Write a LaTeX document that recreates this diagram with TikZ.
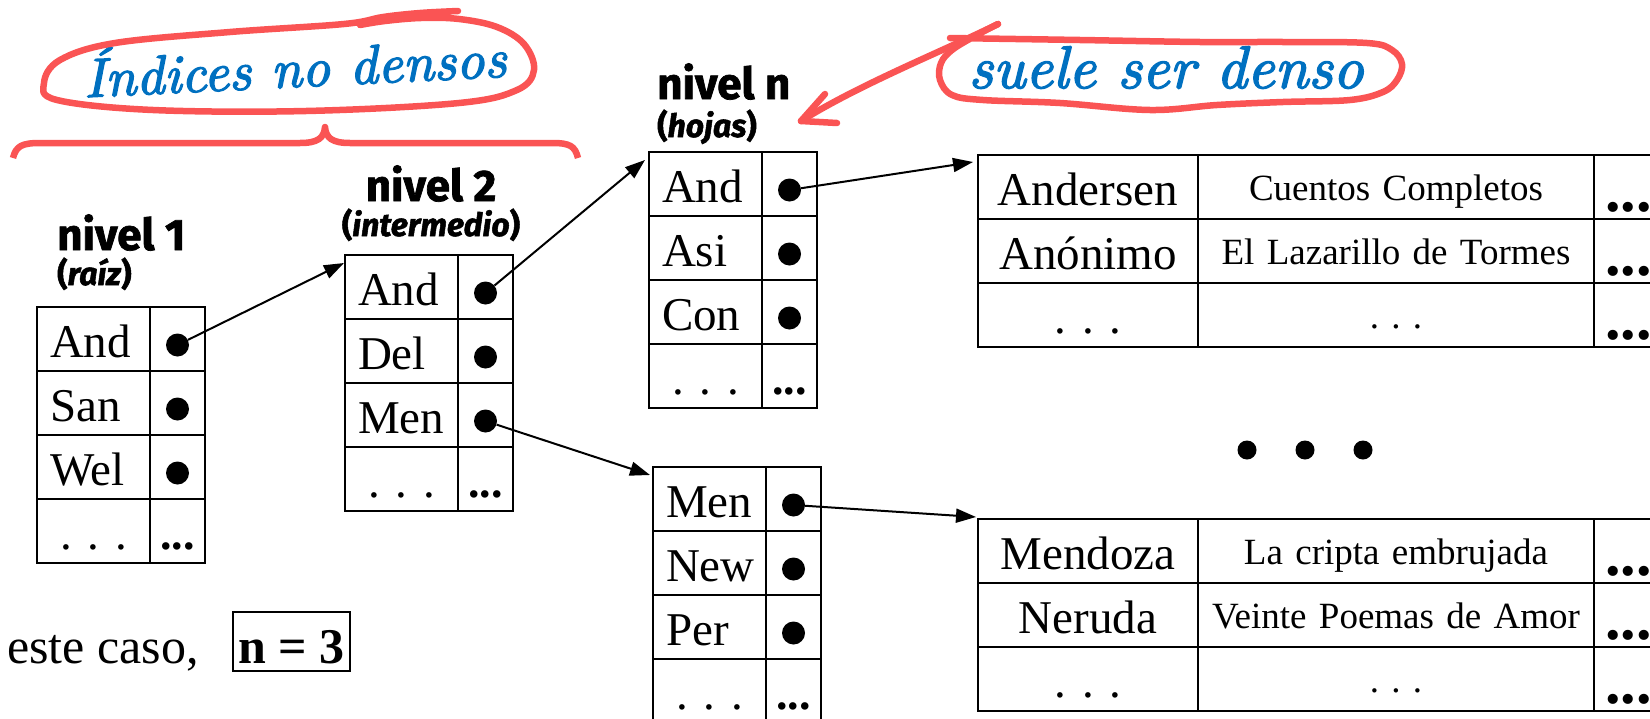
\documentclass[tikz,border=0pt]{standalone}
\usepackage{fontspec}
\setmainfont{Liberation Serif}
\newfontfamily\lblfont{Fira Sans}[BoldFeatures={FakeBold=1.6}, BoldItalicFeatures={FakeBold=1.6}]
\newfontfamily\hand{lmroman10-italic.otf}[FakeBold=2.4]
\usetikzlibrary{arrows.meta,calc}
\definecolor{inkred}{RGB}{250,84,84}
\definecolor{inkblue}{RGB}{0,112,192}

\tikzset{
  grid/.style={draw, line width=1.8pt, inner sep=0pt, outer sep=0pt, anchor=north west},
  keycell/.style={grid, minimum width=113pt, minimum height=64pt, text width=87pt,
    align=left, text height=36pt, text depth=0pt, font=\fontsize{47}{50}\selectfont},
  ptrcell/.style={grid, minimum width=55pt, minimum height=64pt, text width=45pt,
    align=center, text height=36pt, text depth=0pt, font=\fontsize{46}{50}\selectfont\bfseries},
  namecell/.style={grid, minimum width=220pt, minimum height=64pt, text width=200pt,
    align=center, text height=36pt, text depth=0pt, font=\fontsize{47}{50}\selectfont},
  titlecell/.style={grid, minimum width=396pt, minimum height=64pt, text width=380pt,
    align=center, text height=26pt, text depth=0pt, font=\fontsize{37}{40}\selectfont},
  morecell/.style={grid, minimum width=126pt, minimum height=64pt, text width=104pt,
    align=left, text height=48pt, text depth=0pt, font=\fontsize{62}{64}\selectfont\bfseries},
  bullet/.style={circle, fill, inner sep=0pt, minimum size=23pt},
  bigdot/.style={circle, fill, inner sep=0pt, minimum size=19pt},
  link/.style={line width=2pt, -{Triangle[length=20pt,width=14pt]}},
  lbl/.style={inner sep=0pt, font=\lblfont\fontsize{44}{46}\selectfont\bfseries},
  sublbl/.style={inner sep=0pt, font=\lblfont\fontsize{32}{34}\selectfont\bfseries},
  note/.style={inner sep=0pt, text=inkblue},
  redpen/.style={draw=inkred, line width=6.5pt, line cap=round, line join=round},
}

% index block: four rows of key + pointer, the last one left open
\newcommand{\idxtable}[6]{%
  \foreach \r/\k in {1/#4,2/#5,3/#6}{%
    \node[keycell] (#1k\r) at (#2,{#3+64*(\r-1)}) {\k};
    \node[ptrcell] (#1p\r) at ({#2+113},{#3+64*(\r-1)}) {};
    \node[bullet] (#1d\r) at ({#2+140.5},{#3+64*(\r-1)+38}) {};
  }
  \node[keycell, align=center] (#1k4) at (#2,{#3+192}) {.\ .\ .};
  \node[ptrcell] (#1p4) at ({#2+113},{#3+192}) {...};
}

% data block: author, title and the remaining fields
\newcommand{\datatable}[7]{%
  \node[namecell] (#1a1) at (#2,#3) {#4};
  \node[titlecell] (#1b1) at ({#2+220},#3) {#5};
  \node[morecell] (#1c1) at ({#2+616},#3) {...};
  \node[namecell] (#1a2) at (#2,{#3+64}) {#6};
  \node[titlecell] (#1b2) at ({#2+220},{#3+64}) {#7};
  \node[morecell] (#1c2) at ({#2+616},{#3+64}) {...};
  \node[namecell] (#1a3) at (#2,{#3+128}) {.\ .\ .};
  \node[titlecell] (#1b3) at ({#2+220},{#3+128}) {.\ .\ .};
  \node[morecell] (#1c3) at ({#2+616},{#3+128}) {...};
}

\begin{document}
\begin{tikzpicture}[x=1pt, y=-1pt]
\path[use as bounding box] (0,0) rectangle (1650,718);
\clip (0,0) rectangle (1650,718);

% level labels
\node[lbl, anchor=base west] (lv1) at (57,250) {nivel 1};
\node[sublbl, anchor=base west] (lv1s) at (57,285) {(\textit{raíz})};
\node[lbl, anchor=base] (lv2) at (431,201) {nivel 2};
\node[sublbl, anchor=base] (lv2s) at (431,236) {(\textit{intermedio})};
\node[lbl, anchor=base west] (lvn) at (657,99) {nivel n};
\node[sublbl, anchor=base west] (lvns) at (657,137) {(\textit{hojas})};

% index blocks
\idxtable{ra}{37}{307}{And}{San}{Wel}
\idxtable{im}{345}{255}{And}{Del}{Men}
\idxtable{ha}{649}{152}{And}{Asi}{Con}
\idxtable{hm}{653}{467}{Men}{New}{Per}

% data blocks
\datatable{ad}{978}{155}{Andersen}{Cuentos Completos}{Anónimo}{El Lazarillo de Tormes}
\datatable{md}{978}{519}{Mendoza}{La cripta embrujada}{Neruda}{Veinte Poemas de Amor}

% more blocks in between
\node[bigdot] (e1) at (1247,450) {};
\node[bigdot] (e2) at (1305,450) {};
\node[bigdot] (e3) at (1363,450) {};

% pointers
\draw[link] (rad1) -- ($(imk1.north west)+(-1,8)$);
\draw[link] (imd1) -- ($(hak1.north west)+(-4,8)$);
\draw[link] (imd3) -- ($(hmk1.north west)+(-3,8)$);
\draw[link] (had1) -- ($(ada1.north west)+(-5,7)$);
\draw[link] (hmd1) -- ($(mda1.north west)+(-2,-2)$);

% bottom remark
\node[anchor=base west, inner sep=0pt, font=\fontsize{50}{52}\selectfont] (caso) at (7,663) {este caso,};
\node[draw, line width=1.6pt, minimum width=117pt, minimum height=59pt, inner sep=0pt,
  text height=43pt, text depth=0pt, font=\fontsize{50}{52}\selectfont\bfseries] (nval) at (291.5,641.5) {n = 3};

% hand-written notes
\node[note, rotate=2.8, anchor=base, font=\hand\fontsize{55}{57}\selectfont] (nodense) at (296,87) {Índices no densos};
\node[note, anchor=base, font=\hand\fontsize{60}{62}\selectfont] (dense) at (1166,88) {suele ser denso};

% loop round the first note
\draw[redpen] plot[smooth, tension=0.6] coordinates {
  (458,11) (420,13) (383,17) (344,24) (230,32) (115,43) (60,60) (44,83) (57,100)
  (153,110) (306,111) (459,103) (517,90) (534,70) (524,44) (497,27) (459,19)
  (421,18) (385,21) (360,25)};
% brace under it
\draw[redpen, line cap=butt] (13,158) .. controls (16,146) and (22,143) .. (40,143) -- (300,143)
  .. controls (318,143) and (324,138) .. (325,127)
  .. controls (326,138) and (332,143) .. (350,143) -- (552,143)
  .. controls (570,143) and (575,146) .. (578,158);

% loop round the second note, ending in the arrow
\coordinate (ptail) at (998,24);
\coordinate (phead) at (801,121);
\draw[redpen] plot[smooth, tension=0.6] coordinates {
  (950,38) (1080,40) (1200,42) (1283,42) (1367,43) (1392,50) (1402,64) (1397,80)
  (1383,92) (1350,100) (1283,102) (1217,105) (1150,110) (1060,103) (983,100)
  (952,95) (940,80) (941,63) (952,50) (975,36) (998,24)};
\draw[redpen] (ptail) .. controls (950,48) and (860,84) .. (phead);
\draw[redpen] (phead) -- ++(36,2);
\draw[redpen] (phead) -- ++(24,-27);
\end{tikzpicture}
\end{document}
